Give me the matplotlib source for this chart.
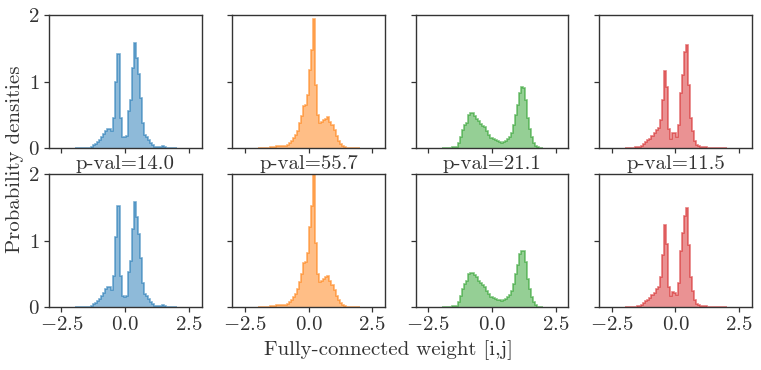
import numpy as np
import matplotlib as mpl
mpl.use('Agg')
import matplotlib.pyplot as plt

plt.rcParams['font.family'] = 'serif'
plt.rcParams['font.serif'] = ['cmr10']
plt.rcParams['mathtext.fontset'] = 'cm'
plt.rcParams['axes.formatter.use_mathtext'] = True
plt.rcParams['axes.unicode_minus'] = True
plt.rcParams['text.color'] = '#333333'
plt.rcParams['xtick.labelcolor'] = '#333333'
plt.rcParams['ytick.labelcolor'] = '#333333'

# histogram bins: width 0.08 starting at -1.98
bin_start = -1.98
bin_width = 0.08

colors = ['#1f77b4', '#ff7f0e', '#2ca02c', '#d62728']
pvals = ['14.0', '55.7', '21.1', '11.5']

# densities per bin, top row (one list per panel)
blue_top = [0, 0, 0, 0, 0, 0, 0, 0.005, 0.02, 0.04,
            0.06, 0.09, 0.12, 0.17, 0.21, 0.26, 0.29, 0.28, 0.25, 0.45,
            1.0, 1.42, 0.45, 0.17, 0.16, 0.18, 0.55, 0.72, 1.2, 1.58,
            1.35, 1.12, 0.75, 0.38, 0.19, 0.17, 0.12, 0.08, 0.04, 0.02,
            0.015, 0.01, 0.02, 0.035, 0.01, 0, 0, 0, 0, 0]
orange_top = [0, 0, 0, 0, 0, 0.005, 0.01, 0.015, 0.02, 0.025,
              0.025, 0.025, 0.03, 0.03, 0.05, 0.08, 0.11, 0.15, 0.19, 0.26,
              0.37, 0.48, 0.63, 0.64, 0.80, 1.17, 1.48, 1.94, 0.95, 0.5,
              0.37, 0.39, 0.42, 0.44, 0.47, 0.39, 0.34, 0.27, 0.18, 0.11,
              0.06, 0.035, 0.015, 0.005, 0, 0, 0, 0, 0, 0]
green_top = [0, 0, 0, 0, 0.005, 0.01, 0.015, 0.02, 0.07, 0.16,
             0.27, 0.34, 0.38, 0.49, 0.52, 0.52, 0.48, 0.44, 0.40, 0.36,
             0.33, 0.32, 0.26, 0.2, 0.15, 0.13, 0.12, 0.11, 0.09, 0.08,
             0.09, 0.11, 0.14, 0.17, 0.23, 0.34, 0.50, 0.65, 0.83, 0.91,
             0.90, 0.72, 0.45, 0.28, 0.16, 0.07, 0.025, 0.008, 0.003, 0]
red_top = [0, 0, 0.003, 0.005, 0.005, 0.008, 0.01, 0.015, 0.03, 0.06,
           0.09, 0.12, 0.14, 0.18, 0.23, 0.27, 0.30, 0.42, 0.72, 1.16,
           0.92, 0.29, 0.14, 0.22, 0.22, 0.17, 0.34, 0.82, 1.1, 1.45,
           1.55, 0.95, 0.45, 0.25, 0.1, 0.05, 0.025, 0.015, 0.01, 0.01,
           0.005, 0.003, 0, 0, 0, 0, 0, 0, 0, 0]

# bottom row
blue_bot = [0, 0, 0, 0, 0, 0, 0, 0.005, 0.02, 0.04,
            0.06, 0.09, 0.12, 0.17, 0.22, 0.27, 0.31, 0.30, 0.26, 0.47,
            1.05, 1.52, 0.47, 0.16, 0.15, 0.17, 0.53, 0.70, 1.18, 1.58,
            1.36, 1.10, 0.74, 0.37, 0.19, 0.16, 0.12, 0.08, 0.04, 0.02,
            0.015, 0.01, 0.02, 0.03, 0.01, 0, 0, 0, 0, 0]
orange_bot = [0, 0, 0, 0, 0, 0.005, 0.01, 0.015, 0.02, 0.025,
              0.025, 0.025, 0.03, 0.035, 0.05, 0.08, 0.11, 0.15, 0.20, 0.27,
              0.38, 0.50, 0.66, 0.68, 0.82, 1.20, 1.52, 2.1, 0.97, 0.5,
              0.38, 0.40, 0.43, 0.45, 0.47, 0.40, 0.33, 0.26, 0.17, 0.10,
              0.06, 0.03, 0.015, 0.005, 0, 0, 0, 0, 0, 0]
green_bot = [0, 0, 0, 0, 0.005, 0.01, 0.015, 0.02, 0.07, 0.17,
             0.28, 0.35, 0.39, 0.50, 0.52, 0.51, 0.48, 0.45, 0.40, 0.36,
             0.33, 0.30, 0.25, 0.19, 0.15, 0.13, 0.12, 0.11, 0.10, 0.09,
             0.10, 0.12, 0.15, 0.18, 0.24, 0.35, 0.50, 0.64, 0.80, 0.85,
             0.84, 0.68, 0.43, 0.27, 0.15, 0.07, 0.025, 0.008, 0.003, 0]
red_bot = [0, 0, 0.003, 0.005, 0.005, 0.008, 0.01, 0.015, 0.03, 0.06,
           0.09, 0.11, 0.14, 0.18, 0.22, 0.27, 0.30, 0.45, 0.78, 1.24,
           0.95, 0.30, 0.16, 0.23, 0.22, 0.18, 0.36, 0.85, 1.12, 1.38,
           1.50, 0.93, 0.45, 0.24, 0.1, 0.05, 0.025, 0.015, 0.01, 0.01,
           0.005, 0.003, 0, 0, 0, 0, 0, 0, 0, 0]

rows = [[blue_top, orange_top, green_top, red_top],
        [blue_bot, orange_bot, green_bot, red_bot]]

fig, axes = plt.subplots(2, 4, figsize=(7.61, 3.70), dpi=100,
                         sharex=True, sharey=True)
fig.subplots_adjust(left=0.064, right=0.988, top=0.959, bottom=0.170,
                    wspace=0.2, hspace=0.2)

for r in range(2):
    for c in range(4):
        ax = axes[r, c]
        dens = np.array(rows[r][c])
        edges = bin_start + bin_width * np.arange(len(dens) + 1)
        ax.stairs(dens, edges, fill=True, color=colors[c], alpha=0.5,
                  linewidth=0)
        ax.stairs(dens, edges, color=colors[c], alpha=0.6, linewidth=1.2)
        ax.set_xlim(-3, 3)
        ax.set_ylim(0, 2)
        ax.set_xticks([-2.5, 0, 2.5])
        ax.set_yticks([0, 1, 2])
        ax.tick_params(direction='out', length=3.5, width=0.9,
                       color='#333333', labelsize=15, pad=3)
        for s in ax.spines.values():
            s.set_color('#333333')
            s.set_linewidth(1.0)
        if r == 1:
            ax.set_title('p-val=' + pvals[c], fontsize=15, pad=4)

fig.text(0.51, 0.054, 'Fully-connected weight [i,j]', ha='center',
         va='center', fontsize=15)
fig.text(0.02, 0.57, 'Probability densities', ha='center', va='center',
         rotation=90, fontsize=15)

fig.savefig('out.png', dpi=100)
